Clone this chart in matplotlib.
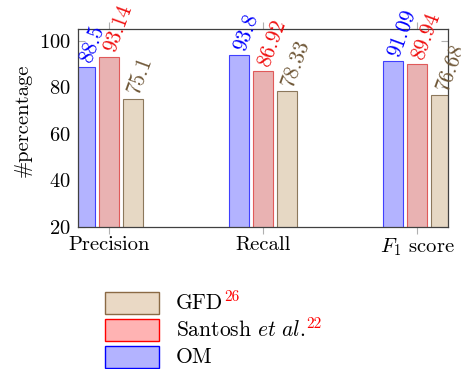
import matplotlib
matplotlib.use("Agg")
import matplotlib.pyplot as plt
from matplotlib.patches import Rectangle
import numpy as np

plt.rcParams['font.family'] = ['cmr10', 'DejaVu Serif']
plt.rcParams['mathtext.fontset'] = 'cm'
plt.rcParams['axes.formatter.use_mathtext'] = True

categories = ["Precision", "Recall", "$F_1$ score"]
om = [88.5, 93.8, 91.09]
santosh = [93.14, 86.92, 89.94]
gfd = [75.1, 78.33, 76.68]
om_labels = ["88.5", "93.8", "91.09"]
santosh_labels = ["93.14", "86.92", "89.94"]
gfd_labels = ["75.1", "78.33", "76.68"]
yticks = [20, 40, 60, 80, 100]

W, H = 461, 369
fig = plt.figure(figsize=(W / 100, H / 100), dpi=100)
ax = fig.add_axes([78 / W, 1 - 227 / H, (448 - 78) / W, (227 - 29) / H])

x = np.arange(len(categories))
width = 0.13
off = 0.156

series = [
    (om, om_labels, -off, '#b3b3ff', '#4040ff', '#0000ff'),
    (santosh, santosh_labels, 0.0, '#e9b2b2', '#e05a5a', '#f01010'),
    (gfd, gfd_labels, off, '#e6d8c4', '#8c785c', '#6f5737'),
]
for vals, labs, o, fc, ec, tc in series:
    ax.bar(x + o, vals, width, color=fc, edgecolor=ec, linewidth=0.8, zorder=2)
    for xi, v, lab in zip(x + o, vals, labs):
        ang = np.deg2rad(70)
        ax.annotate(lab, (xi, v), xytext=(4.0 * np.cos(ang) - 0.8, 4.0 * np.sin(ang)),
                    textcoords='offset points', rotation=70, rotation_mode='anchor',
                    ha='left', va='center', color=tc, fontsize=15.5, annotation_clip=False,
                    zorder=5)

ax.set_xlim(-0.2, 2.2)
ax.set_ylim(20, 105)
ax.set_xticks(x)
ax.set_xticklabels(categories)
ax.set_yticks(yticks)
ax.tick_params(axis='x', direction='out', length=5, width=0.8, color='#b0b0b0',
               top=True, labelsize=14.8, pad=1.5)
ax.tick_params(axis='y', direction='in', length=5, width=0.8, color='#b0b0b0',
               right=True, labelsize=14.8, pad=5)
for s in ax.spines.values():
    s.set_color('#404040')
    s.set_linewidth(0.9)
    s.set_zorder(3)

ax.set_ylabel("#percentage", fontsize=14.8)
ax.yaxis.set_label_coords(-0.125, 0.54)

# manual legend below the axes
leg_items = [
    ("GFD", "26", '#ead9c5', '#8b6a45'),
    ("Santosh $\\mathit{et\\ al.}$", "22", '#ffb3b3', '#ff0000'),
    ("OM", None, '#b3b3ff', '#0000ff'),
]
tops = [292, 319, 346]
renderer = fig.canvas.get_renderer()
for (lab, sup, fc, ec), t in zip(leg_items, tops):
    fig.patches.append(Rectangle((105 / W, 1 - (t + 22) / H), 54 / W, 22 / H,
                                 transform=fig.transFigure, facecolor=fc,
                                 edgecolor=ec, linewidth=1.0))
    txt = fig.text(176 / W, 1 - (t + 11) / H, lab, fontsize=15.5, va='center', ha='left')
    if sup:
        bb = txt.get_window_extent(renderer)
        fig.text((bb.x1 + 0.5) / W, 1 - (t + 5) / H, sup, fontsize=11,
                 color='#ff0000', va='center', ha='left')

fig.savefig("out.png", dpi=100)
